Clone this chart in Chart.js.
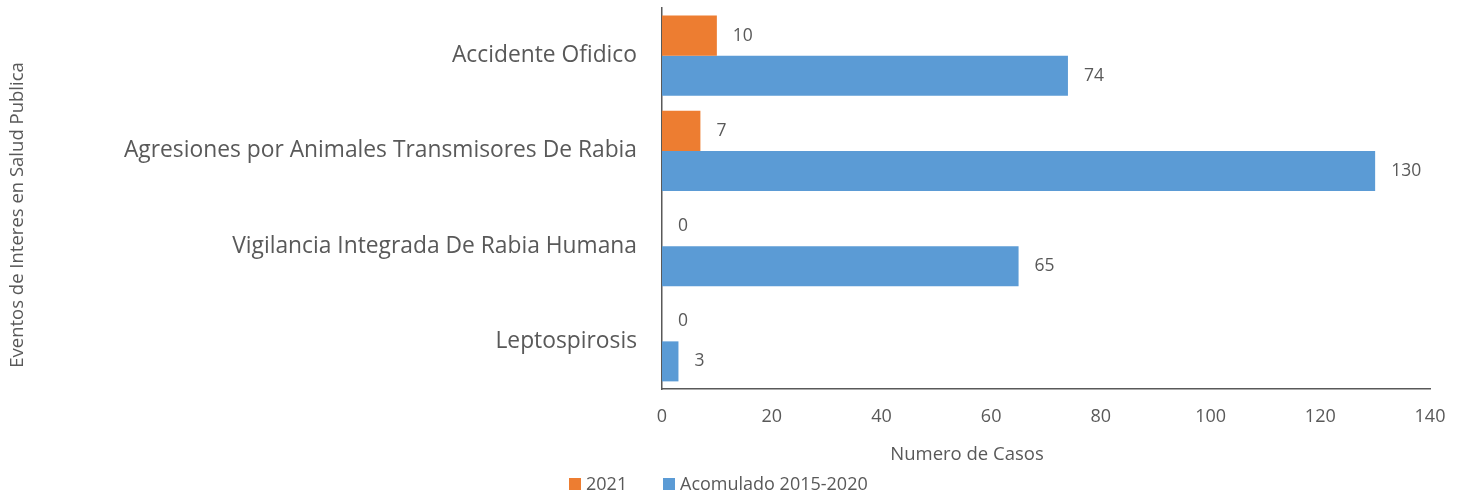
<!DOCTYPE html>
<html><head><meta charset="utf-8">
<script src="https://cdn.jsdelivr.net/npm/chart.js@4/dist/chart.umd.min.js"></script>
<style>html,body{margin:0;padding:0;background:#fff}#w{width:1467px;height:497px}</style>
</head><body><div id="w"><canvas id="c"></canvas></div>
<script>
const categories = ["Accidente Ofidico","Agresiones por Animales Transmisores De Rabia","Vigilancia Integrada De Rabia Humana","Leptospirosis"];
const series2021 = [10,7,0,0];
const seriesAcum = [74,130,65,3];
const seriesNames = ["2021","Acomulado 2015-2020"];
const seriesColors = ["#ED7D31","#5B9BD5"];
const xTicks = [0,20,40,60,80,100,120,140];
const xTitle = "Numero de Casos";
const yTitle = "Eventos de Interes en Salud Publica";

const FONT = "'Open Sans', sans-serif";
const TXT = "#595959";

const labelPlugin = {
  id: 'lbl',
  afterDatasetsDraw(chart){
    const ctx = chart.ctx;
    ctx.save();
    ctx.font = "17.5px " + FONT;
    ctx.fillStyle = TXT;
    ctx.textBaseline = 'middle';
    ctx.textAlign = 'left';
    chart.data.datasets.forEach((ds,i)=>{
      chart.getDatasetMeta(i).data.forEach((bar,j)=>{
        ctx.fillText(String(ds.data[j]), bar.x + 16, bar.y);
      });
    });
    // axis titles
    ctx.font = "18.5px " + FONT;
    ctx.textAlign = 'center';
    ctx.fillText(xTitle, 967, 455);
    ctx.save();
    ctx.translate(18, 215);
    ctx.rotate(-Math.PI/2);
    ctx.fillText(yTitle, 0, 0);
    ctx.restore();
    // legend
    ctx.font = "18px " + FONT;
    ctx.textAlign = 'left';
    const legendX = [569, 663];
    seriesNames.forEach((n,i)=>{
      ctx.fillStyle = seriesColors[i];
      ctx.fillRect(legendX[i], 478, 12, 12);
      ctx.fillStyle = TXT;
      ctx.fillText(n, legendX[i] + 17, 485);
    });
    ctx.restore();
  }
};

new Chart(document.getElementById('c'), {
  type: 'bar',
  data: {
    labels: categories,
    datasets: [
      {label: seriesNames[0], data: series2021, backgroundColor: seriesColors[0], barPercentage: 1, categoryPercentage: 0.84},
      {label: seriesNames[1], data: seriesAcum, backgroundColor: seriesColors[1], barPercentage: 1, categoryPercentage: 0.84}
    ]
  },
  options: {
    indexAxis: 'y',
    responsive: true,
    maintainAspectRatio: false,
    animation: false,
    layout: {padding: {top: 8, right: 37, left: 0, bottom: 0}},
    plugins: {
      tooltip: {enabled: false},
      legend: {display: false}
    },
    scales: {
      x: {
        min: 0, max: 140,
        afterBuildTicks(s){ s.ticks = xTicks.map(v=>({value:v})); },
        grid: {display: false, drawTicks: false},
        border: {display: true, color: '#595959', width: 1.5},
        ticks: {font: {family: FONT, size: 18}, color: TXT, padding: 17},
        afterFit(s){ s.height = 108; }
      },
      y: {
        grid: {display: false, drawTicks: false},
        border: {display: true, color: '#595959', width: 1.5},
        ticks: {font: {family: FONT, size: 22.8}, color: TXT, padding: 25},
        afterFit(s){ s.width = 662; s.paddingTop = 0; s.paddingBottom = 0; }
      }
    }
  },
  plugins: [labelPlugin]
});
</script>
</body></html>
